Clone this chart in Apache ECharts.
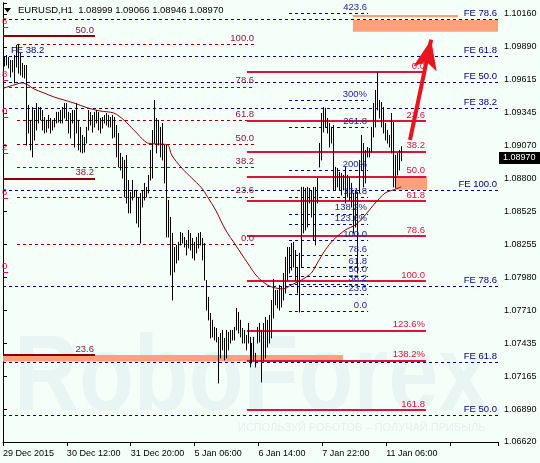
<!DOCTYPE html>
<html><head><meta charset="utf-8">
<script src="https://cdn.jsdelivr.net/npm/echarts@6/dist/echarts.min.js"></script>
<style>html,body{margin:0;padding:0;background:#F5FFFA;}#c{width:540px;height:463px;}</style>
</head><body><div id="c"></div>
<script>
// ---------- data ----------
const symbolName = 'EURUSD,H1';
const ohlcTitle = ['1.08999', '1.09066', '1.08946', '1.08970'];
const lastPrice = 1.08970;
const xTickLabels = ['29 Dec 2015', '30 Dec 12:00', '31 Dec 20:00', '5 Jan 06:00', '6 Jan 14:00', '7 Jan 22:00', '11 Jan 06:00'];
const yTickLabels = ['1.06620', '1.06890', '1.07165', '1.07435', '1.07710', '1.07980', '1.08255', '1.08525', '1.08800', '1.09070', '1.09345', '1.09615', '1.09890', '1.10160'];

const barHigh = [
1.09805,1.09821,1.09805,1.09780,1.09780,1.09821,1.09904,1.09912,1.09838,1.09755,
1.09738,1.09738,1.09408,1.09284,1.09391,1.09366,1.09424,1.09391,1.09391,1.09366,
1.09308,1.09284,1.09325,1.09300,1.09284,1.09300,1.09350,1.09350,1.09366,1.09391,
1.09424,1.09424,1.09350,1.09341,1.09366,1.09366,1.09424,1.09284,1.09226,1.09160,
1.09143,1.09226,1.09366,1.09350,1.09325,1.09350,1.09366,1.09350,1.09300,1.09308,
1.09325,1.09341,1.09325,1.09308,1.09325,1.09308,1.09242,1.09176,1.09011,1.08978,
1.08953,1.08994,1.08787,1.08688,1.08787,1.08705,1.08705,1.08647,1.08680,1.08705,
1.08763,1.08730,1.08829,1.09036,1.09201,1.09449,1.09300,1.09284,1.09226,1.09259,
1.09077,1.09077,1.08622,1.08481,1.08349,1.08233,1.08250,1.08275,1.08357,1.08349,
1.08316,1.08291,1.08374,1.08349,1.08308,1.08275,1.08316,1.08349,1.08357,1.08308,
1.08266,1.07960,1.07820,1.07687,1.07630,1.07572,1.07563,1.07489,1.07522,1.07547,
1.07481,1.07547,1.07530,1.07547,1.07547,1.07572,1.07729,1.07696,1.07630,1.07563,
1.07547,1.07506,1.07605,1.07489,1.07439,1.07489,1.07357,1.07572,1.07605,1.07547,
1.07605,1.07654,1.07630,1.07671,1.07795,1.07969,1.07878,1.07878,1.07919,1.07903,
1.08018,1.08151,1.08233,1.08233,1.08266,1.08275,1.08208,1.08068,1.08184,1.08730,
1.08730,1.08721,1.08730,1.08721,1.08705,1.08730,1.08730,1.08804,1.09093,1.09341,
1.09391,1.09383,1.09300,1.09259,1.09226,1.09242,1.08895,1.08887,1.08854,1.08845,
1.08829,1.08895,1.08829,1.08812,1.08763,1.08680,1.08705,1.08688,1.08953,1.09160,
1.09093,1.09036,1.09060,1.09052,1.09226,1.09424,1.09532,1.09681,1.09449,1.09433,
1.09391,1.09259,1.09201,1.09160,1.09341,1.09267,1.08994,1.09011,1.09036,1.09066];

const barLow = [
1.09730,1.09738,1.09714,1.09639,1.09681,1.09590,1.09722,1.09672,1.09656,1.09639,
1.09631,1.09077,1.09176,1.09036,1.08978,1.09118,1.09201,1.09259,1.09284,1.09201,
1.09176,1.09184,1.09217,1.09176,1.09201,1.09226,1.09259,1.09267,1.09259,1.09259,
1.09300,1.09284,1.09176,1.09135,1.09259,1.09060,1.09176,1.09036,1.09019,1.09011,
1.09019,1.09093,1.09201,1.09242,1.09184,1.09226,1.09259,1.09201,1.09176,1.09217,
1.09259,1.09242,1.09226,1.09226,1.09135,1.09143,1.08978,1.08895,1.08870,1.08804,
1.08647,1.08597,1.08515,1.08515,1.08622,1.08647,1.08432,1.08399,1.08266,1.08564,
1.08622,1.08647,1.08680,1.08787,1.08804,1.09093,1.09011,1.09077,1.08978,1.08953,
1.08763,1.08316,1.08316,1.08002,1.07795,1.08027,1.08101,1.08126,1.08250,1.08266,
1.08233,1.08167,1.08225,1.08208,1.08142,1.08126,1.08184,1.08225,1.08250,1.08126,
1.07960,1.07712,1.07630,1.07481,1.07489,1.07464,1.07448,1.07109,1.07316,1.07382,
1.07299,1.07316,1.07382,1.07439,1.07464,1.07464,1.07547,1.07522,1.07489,1.07439,
1.07439,1.07382,1.07439,1.07241,1.07274,1.07299,1.07241,1.07439,1.07448,1.07117,
1.07299,1.07316,1.07406,1.07439,1.07481,1.07646,1.07754,1.07729,1.07712,1.07737,
1.07795,1.07853,1.07960,1.08018,1.08043,1.08068,1.07960,1.07853,1.07696,1.08068,
1.08349,1.08374,1.08399,1.08597,1.08481,1.08291,1.08250,1.08597,1.08895,1.08953,
1.09184,1.09226,1.09176,1.09060,1.09093,1.08705,1.08705,1.08730,1.08705,1.08663,
1.08705,1.08597,1.08647,1.08622,1.08564,1.08349,1.08399,1.08018,1.08680,1.08870,
1.08730,1.08763,1.08978,1.08978,1.09019,1.09143,1.09226,1.09366,1.09300,1.09226,
1.09176,1.09118,1.09093,1.09060,1.09011,1.08730,1.08721,1.08829,1.08870,1.08946];

// moving average read at these bars
const maBar = [0,5,9,12,15,20,25,30,35,42,48,55,60,66,72,77,82,84,89,94,99,102,106,111,116,122,127,132,136,140,144,149,154,157,161,165,171,176,181,186,191,195,199];
const maValue = [1.09548,1.09573,1.09590,1.09573,1.09540,1.09507,1.09474,1.09449,1.09424,1.09383,1.09358,1.09341,1.09284,1.09184,1.09093,1.09085,1.09077,1.08994,1.08887,1.08804,1.08721,1.08647,1.08539,1.08374,1.08250,1.08101,1.07985,1.07919,1.07894,1.07886,1.07919,1.07960,1.08018,1.08101,1.08209,1.08291,1.08374,1.08415,1.08498,1.08597,1.08680,1.08705,1.08730];

// Fibonacci / expansion objects (levels and prices)
const maroonFibLevels = ['100.0','78.6','61.8','50.0','38.2','23.6','0.0'];
const maroonFibPrices = [1.09912,1.09558,1.09280,1.09085,1.08890,1.08648,1.08258];
const crimsonFibLevels = ['0.0','23.6','38.2','50.0','61.8','78.6','100.0','123.6%','138.2%','161.8'];
const crimsonFibPrices = [1.09681,1.09273,1.09021,1.08817,1.08613,1.08322,1.07952,1.07544,1.07292,1.06884];
const blueFibLevels = ['0.0','23.6','38.2','50.0','61.8','78.6','100.0','123.6%','138.2%','161.8','200%','261.8','300%','423.6'];
const blueFibPrices = [1.07704,1.07841,1.07926,1.07995,1.08063,1.08161,1.08285,1.08422,1.08507,1.08644,1.08866,1.09225,1.09447,1.10165];
const feLabels = ['FE 78.6','FE 61.8','FE 50.0','FE 38.2','FE 100.0','FE 78.6','FE 61.8','FE 50.0'];
const fePrices = [1.10119,1.09813,1.09598,1.09383,1.08701,1.07911,1.07282,1.06844];
const thickLabels = ['50.0','38.2','23.6'];
const thickPrices = [1.09978,1.08800,1.07340];
const edgeLabels = ['6','8','0','2','6','0'];
const edgePrices = [1.10053,1.09609,1.09308,1.09011,1.08639,1.08027];
const zonePrices = [[1.10152,1.10133],[1.10111,1.10014],[1.08820,1.08705],[1.07340,1.07285]];
const arrowPrices = [1.09118, 1.09948];

// ---------- layout (bar-slot units on the time axis) ----------
const SLOTS = 248;
const span = {
  maroon:[7,126.3], maroon786:[0,126.3], thick:[0,46.1], crimson:[122.2,211.9], blue:[143.3,182.9],
  fe:[0,SLOTS], edge:[0,2.6], feLeft:[3.5,40],
  zones:[[175.3,228],[175.3,SLOTS],[196.9,212.5],[0,170.3]], arrow:[203.9,214.5]
};
const FONT = 'Liberation Sans';
const MAROON = '#8b0000', CRIMSON = '#dc143c', NAVY = '#000080', BLUELBL = '#24249a';

function seg(u1, u2, p, text, color, width, type, lblColor, pos) {
  return [{coord:[u1,p], lineStyle:{color: width>0 ? color : 'rgba(0,0,0,0)', width: Math.max(width,1), type:type},
           label:{show:!!text, formatter:text||'', position:pos||'insideEndTop', color:lblColor||color,
                  fontSize:9.5, fontFamily:FONT, distance:1, padding:0}},
          {coord:[u2,p]}];
}
function mlSeries(items, z) {
  return {type:'line', data:[], z:z, silent:true,
          markLine:{silent:true, symbol:'none', animation:false, precision:5, data:items}};
}

const maroonItems = maroonFibPrices.map((p,k)=>{
  const s = maroonFibLevels[k]==='78.6' ? span.maroon786 : span.maroon;
  return seg(s[0], s[1], p, maroonFibLevels[k], MAROON, 1, [3,3], '#8b1a3a');
});
const thickItems = thickPrices.map((p,k)=>seg(span.thick[0], span.thick[1], p, thickLabels[k], MAROON, 2, 'solid', '#8b1a3a'));
const crimsonItems = crimsonFibPrices.map((p,k)=>seg(span.crimson[0], span.crimson[1], p, crimsonFibLevels[k], CRIMSON, 2, 'solid'));
const blueItems = blueFibPrices.map((p,k)=>seg(span.blue[0], span.blue[1], p, blueFibLevels[k], NAVY, 1, [3,3], BLUELBL));
const feItems = fePrices.map((p,k)=>seg(span.fe[0], span.fe[1], p, feLabels[k], NAVY, 1, [3,3], NAVY));
feItems.push(seg(span.feLeft[0], span.feLeft[1], fePrices[1], 'FE 38.2', NAVY, 0, 'solid', NAVY, 'insideStartTop'));
const edgeItems = edgePrices.map((p,k)=>seg(span.edge[0], span.edge[1], p, edgeLabels[k], CRIMSON, 1, 'solid'));

const zoneItems = zonePrices.map((z,k)=>[{coord:[span.zones[k][0], z[0]]},{coord:[span.zones[k][1], z[1]]}]);

const candleData = barHigh.map((h,i)=>[i+0.5, h, barLow[i]]);
const maData = maBar.map((b,k)=>[b+0.5, maValue[k]]);

const chart = echarts.init(document.getElementById('c'));
chart.setOption({
  animation:false,
  backgroundColor:'#F5FFFA',
  grid:{left:3, right:42, top:3, bottom:21},
  xAxis:{type:'value', min:0, max:SLOTS, interval:32,
    axisLine:{show:true, lineStyle:{color:'#000', width:1}},
    axisTick:{show:true, length:4, lineStyle:{color:'#000'}},
    splitLine:{show:false},
    axisLabel:{show:true, align:'left', margin:7, color:'#000', fontSize:9, fontFamily:FONT,
      formatter:v=>{const k=Math.round(v/32); return (Math.abs(v-k*32)<0.01 && k<xTickLabels.length)?xTickLabels[k]:'';}}
  },
  yAxis:[{type:'value', position:'right', min:1.06620, max:1.10251, interval:(1.10160-1.06620)/13,
    axisLine:{show:true, lineStyle:{color:'#000', width:1}},
    axisTick:{show:true, length:4, lineStyle:{color:'#000'}},
    splitLine:{show:false},
    axisLabel:{show:true, margin:6, color:'#000', fontSize:9, fontFamily:FONT,
      formatter:v=>{let best='',d=1; for(const s of yTickLabels){const dd=Math.abs(parseFloat(s)-v); if(dd<d){d=dd;best=s;}} return d<0.0002?best:'';}}
  },{type:'value', position:'left', min:1.06620, max:1.10251,
    axisLine:{show:true, lineStyle:{color:'#000'}}, axisTick:{show:false}, axisLabel:{show:false}, splitLine:{show:false}}],
  graphic:[
    {type:'text', x:14, y:380, scaleX:0.84, z:0, silent:true,
     style:{text:'RoboForex', x:0, y:0, align:'left', verticalAlign:'middle', font:'bold 107px "Liberation Sans"', fill:'rgba(185,205,210,0.2)'}},
    {type:'text', x:238, y:428, z:0, silent:true,
     style:{text:'ИСПОЛЬЗУЙ РОБОТОВ – ПОЛУЧАЙ ПРИБЫЛЬ', align:'left', verticalAlign:'middle', font:'11px "Liberation Sans"', fill:'rgba(185,205,210,0.3)'}},
    {type:'polygon', z:20, silent:true, shape:{points:[[4,8],[11,8],[7.5,12.5]]}, style:{fill:'#000'}},
    {type:'text', x:18, y:10, z:20, silent:true,
     style:{text:symbolName+'  '+ohlcTitle.join(' '), align:'left', verticalAlign:'middle', font:'9.5px "Liberation Sans"', fill:'#000'}}
  ],
  series:[
    {type:'line', data:[], z:1, silent:true,
     markArea:{silent:true, itemStyle:{color:'#FFA07A', opacity:1}, data:zoneItems}},
    {type:'custom', z:5, silent:true, data:candleData, encode:{x:0, y:[1,2]},
     renderItem:(params, api)=>{
       const a = api.coord([api.value(0), api.value(1)]);
       const b = api.coord([api.value(0), api.value(2)]);
       const px = Math.round(a[0]) + 0.5;
       return {type:'line', shape:{x1:px, y1:a[1], x2:px, y2:b[1]+0.5}, style:{stroke:'#000', lineWidth:1}};
     }},
    {type:'line', z:6, silent:true, data:maData, smooth:0.3, symbol:'none', lineStyle:{color:MAROON, width:1}},
    mlSeries(maroonItems, 7),
    mlSeries(thickItems, 7),
    mlSeries(feItems, 7),
    mlSeries(blueItems, 7),
    mlSeries(crimsonItems, 8),
    mlSeries(edgeItems, 8),
    {type:'line', data:[], z:9, silent:true,
     markLine:{silent:true, animation:false, symbol:['none','arrow'], symbolSize:[18,30],
       data:[[{coord:[span.arrow[0], arrowPrices[0]], lineStyle:{color:'#e8141e', width:4, type:'solid'}, label:{show:false}},
              {coord:[span.arrow[1], arrowPrices[1]]}]]}},
    {type:'line', data:[], z:10, silent:true,
     markLine:{silent:true, symbol:'none', animation:false,
       data:[[{coord:[0, lastPrice], lineStyle:{color:'rgba(0,0,0,0)', width:1},
               label:{show:true, position:'end', formatter:ohlcTitle[3], color:'#fff', backgroundColor:'#000',
                      padding:[2,6,1,4], distance:1, fontSize:9, fontFamily:FONT}},
              {coord:[SLOTS, lastPrice]}]]}}
  ]
});
</script></body></html>
